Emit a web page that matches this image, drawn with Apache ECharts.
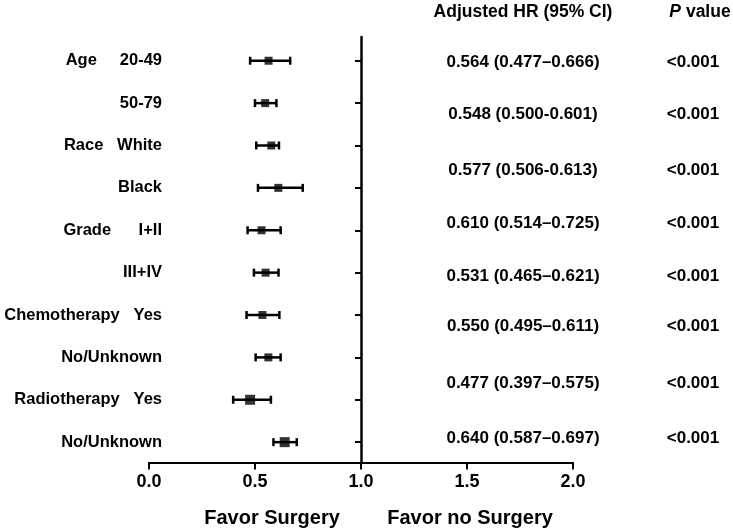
<!DOCTYPE html>
<html>
<head>
<meta charset="utf-8">
<script src="https://cdn.jsdelivr.net/npm/echarts@6/dist/echarts.min.js"></script>
<style>
html,body{margin:0;padding:0;background:#fff;}
#chart{width:733px;height:531px;}
</style>
</head>
<body>
<div id="chart"></div>
<script>
// ---- data ----
const rowLabels = ['Age     20-49', '50-79', 'Race   White', 'Black', 'Grade      I+II', 'III+IV', 'Chemotherapy   Yes', 'No/Unknown', 'Radiotherapy   Yes', 'No/Unknown'];
const hrValues = [0.564, 0.548, 0.577, 0.610, 0.531, 0.550, 0.535, 0.563, 0.477, 0.640];
const ciLower  = [0.477, 0.500, 0.506, 0.514, 0.465, 0.495, 0.460, 0.503, 0.397, 0.587];
const ciUpper  = [0.666, 0.601, 0.613, 0.725, 0.621, 0.611, 0.615, 0.621, 0.575, 0.697];
const hrTexts = ['0.564 (0.477\u20130.666)', '0.548 (0.500-0.601)', '0.577 (0.506-0.613)', '0.610 (0.514\u20130.725)',
                 '0.531 (0.465\u20130.621)', '0.550 (0.495\u20130.611)', '0.477 (0.397\u20130.575)', '0.640 (0.587\u20130.697)'];
const pTexts = ['<0.001', '<0.001', '<0.001', '<0.001', '<0.001', '<0.001', '<0.001', '<0.001'];
const xTicks = [0, 0.5, 1.0, 1.5, 2.0];

// ---- layout ----
const FONT = '"Liberation Sans", Arial, sans-serif';
const textRowY = [62, 114, 170, 223, 276, 326, 383, 438];
const hrColX = 523, pColX = 693;

const rows = rowLabels.map((_, i) => i + 1);

const chart = echarts.init(document.getElementById('chart'), null, {renderer: 'canvas'});

const graphics = [];
graphics.push({type: 'text', x: hrColX, y: 12, style: {text: 'Adjusted HR (95% CI)', font: 'bold 17.5px ' + FONT, fill: '#000', align: 'center', verticalAlign: 'middle'}});
graphics.push({type: 'text', x: 700, y: 12, style: {
  text: '{i|P} value', font: 'bold 17.5px ' + FONT, fill: '#000', align: 'center', verticalAlign: 'middle',
  rich: {i: {fontStyle: 'italic', fontWeight: 'bold', fontSize: 17.5, fontFamily: FONT, fill: '#000'}}
}});
hrTexts.forEach((t, i) => {
  graphics.push({type: 'text', x: hrColX, y: textRowY[i], style: {text: t, font: 'bold 17px ' + FONT, fill: '#000', align: 'center', verticalAlign: 'middle'}});
});
pTexts.forEach((t, i) => {
  graphics.push({type: 'text', x: pColX, y: textRowY[i], style: {text: t, font: 'bold 17px ' + FONT, fill: '#000', align: 'center', verticalAlign: 'middle'}});
});
graphics.push({type: 'text', x: 272, y: 518, style: {text: 'Favor Surgery', font: 'bold 20px ' + FONT, fill: '#000', align: 'center', verticalAlign: 'middle'}});
graphics.push({type: 'text', x: 470, y: 518, style: {text: 'Favor no Surgery', font: 'bold 20px ' + FONT, fill: '#000', align: 'center', verticalAlign: 'middle'}});

const option = {
  animation: false,
  backgroundColor: '#fff',
  grid: {left: 149, right: 160, top: 37, bottom: 68.5, containLabel: false},
  xAxis: {
    type: 'value', min: xTicks[0], max: xTicks[xTicks.length - 1], interval: 0.5,
    axisLine: {show: true, lineStyle: {color: '#000', width: 2}},
    axisTick: {show: true, length: 7, lineStyle: {color: '#000', width: 2}},
    axisLabel: {margin: 11, color: '#000', fontSize: 18, fontWeight: 'bold', fontFamily: FONT, formatter: v => v.toFixed(1)},
    splitLine: {show: false}
  },
  yAxis: {
    type: 'value', inverse: true, min: 0.44, max: 10.48,
    position: 'left', offset: -212,
    axisLine: {show: true, lineStyle: {color: '#000', width: 2.5}},
    axisTick: {show: true, length: 6, customValues: rows, lineStyle: {color: '#000', width: 2}},
    axisLabel: {show: true, customValues: rows, margin: 199, color: '#000', fontSize: 16.5, fontWeight: 'bold', fontFamily: FONT,
      formatter: v => rowLabels[Math.round(v) - 1]},
    splitLine: {show: false}
  },
  graphic: graphics,
  series: [
    {
      type: 'custom',
      data: rows.map((r, i) => [ciLower[i], ciUpper[i], r]),
      encode: {x: [0, 1], y: 2},
      renderItem: function (params, api) {
        const p1 = api.coord([api.value(0), api.value(2)]);
        const p2 = api.coord([api.value(1), api.value(2)]);
        const h = 4;
        const st = {stroke: '#000', lineWidth: 2.5};
        return {type: 'group', children: [
          {type: 'line', shape: {x1: p1[0], y1: p1[1], x2: p2[0], y2: p2[1]}, style: st},
          {type: 'line', shape: {x1: p1[0], y1: p1[1] - h, x2: p1[0], y2: p1[1] + h}, style: st},
          {type: 'line', shape: {x1: p2[0], y1: p2[1] - h, x2: p2[0], y2: p2[1] + h}, style: st}
        ]};
      },
      z: 2
    },
    {
      type: 'scatter',
      data: rows.map((r, i) => [hrValues[i], r]),
      symbol: 'rect',
      symbolSize: (val, params) => (params.dataIndex >= 8 ? 10 : 8),
      itemStyle: {color: '#000'},
      z: 3
    }
  ]
};
chart.setOption(option);
</script>
</body>
</html>
